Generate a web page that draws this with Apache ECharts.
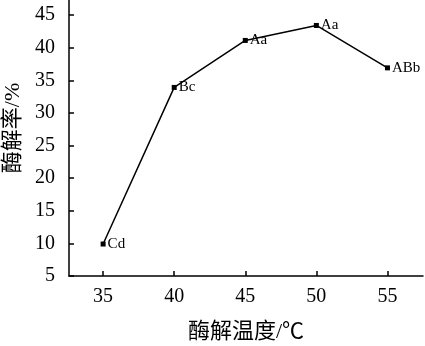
<!DOCTYPE html>
<html><head><meta charset="utf-8">
<script src="https://cdn.jsdelivr.net/npm/echarts@6/dist/echarts.min.js"></script>
<style>html,body{margin:0;padding:0;background:#fff}#c{width:425px;height:346px}</style>
</head><body><div id="c"></div>
<script>
const temps = [35, 40, 45, 50, 55];
const rates = [9.9, 33.9, 41.1, 43.4, 36.9];
const letters = ['Cd', 'Bc', 'Aa', 'Aa', 'ABb'];
const xName = '酶解温度/℃';
const yName = '酶解率/%';

const font = '"Liberation Serif","Times New Roman","Noto Sans CJK SC",serif';
const chart = echarts.init(document.getElementById('c'), null, {renderer:'canvas'});
chart.setOption({
  animation: false,
  backgroundColor: '#fff',
  grid: {left: 69, right: 2, top: 0, bottom: 70, containLabel: false, outerBoundsMode: 'none'},
  xAxis: {
    type: 'value', min: 32.6, max: 57.5, splitNumber: 5,
    name: xName, nameLocation: 'middle', nameGap: 45,
    nameTextStyle: {fontFamily: font, fontSize: 22, color: '#000'},
    axisLine: {show: true, lineStyle: {color: '#000', width: 1.5}},
    axisTick: {inside: true, length: 5, lineStyle: {color: '#000', width: 1.5}},
    axisLabel: {showMinLabel: false, showMaxLabel: false, margin: 11, fontFamily: font, fontSize: 20, color: '#000'},
    splitLine: {show: false}
  },
  yAxis: {
    type: 'value', min: 5, max: 47.3, interval: 5,
    name: yName, nameLocation: 'middle', nameGap: 45,
    nameTextStyle: {fontFamily: font, fontSize: 22, color: '#000', padding: [0, 0, 0, 20]},
    axisLine: {show: true, lineStyle: {color: '#000', width: 1.5}},
    axisTick: {inside: true, length: 5, lineStyle: {color: '#000', width: 1.5}},
    axisLabel: {showMaxLabel: false, margin: 14, fontFamily: font, fontSize: 20, color: '#000'},
    splitLine: {show: false}
  },
  series: [{
    type: 'line',
    data: temps.map((t, i) => [t, rates[i]]),
    symbol: 'rect', symbolSize: 5,
    lineStyle: {color: '#000', width: 1.5},
    itemStyle: {color: '#000'},
    label: {
      show: true, position: 'right', distance: 2,
      formatter: p => letters[p.dataIndex],
      fontFamily: font, fontSize: 15, color: '#000'
    }
  }]
});
</script></body></html>
